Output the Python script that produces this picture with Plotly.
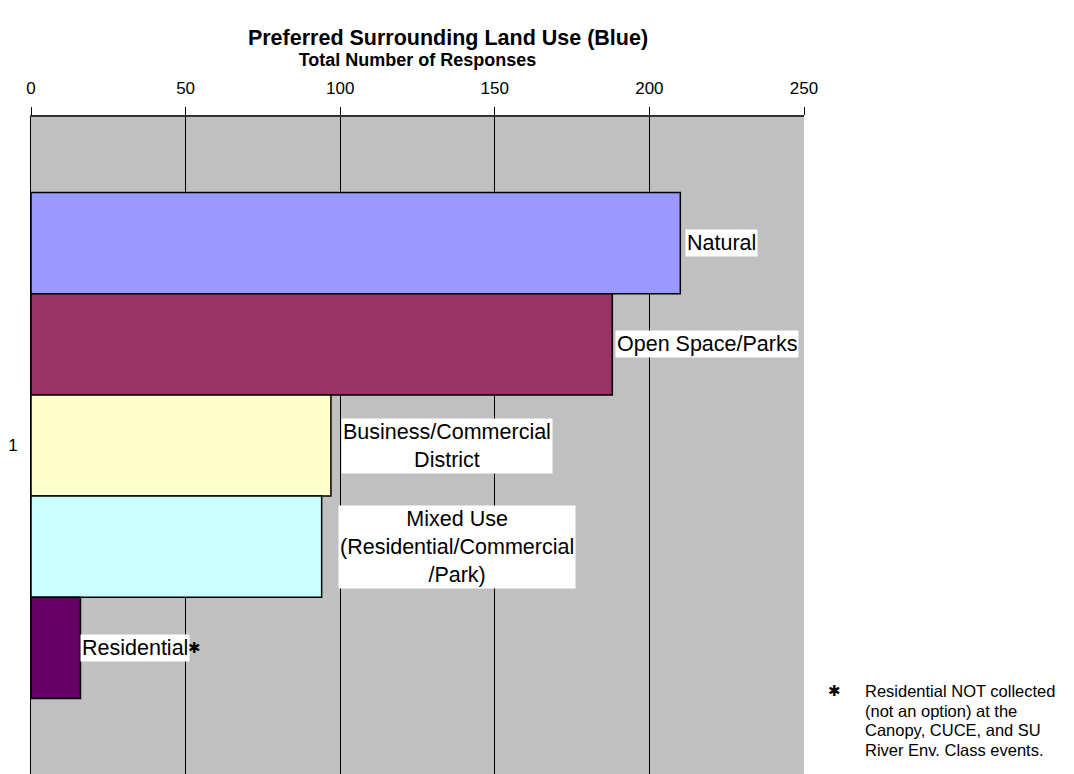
import plotly.graph_objects as go

# ---- data ----
categories = ["Natural", "Open Space/Parks", "Business/Commercial<br>District",
              "Mixed Use<br>(Residential/Commercial<br>/Park)", "Residential"]
values = [210, 188, 97, 94, 16]
group_label = ["1"]
x_ticks = [0, 50, 100, 150, 200, 250]
footnote_lines = ["Residential NOT collected", "(not an option) at the",
                  "Canopy, CUCE, and SU", "River Env. Class events."]

# ---- style ----
colors = ["#9999FF", "#993366", "#FFFFCC", "#CCFFFF", "#660066"]
label_shift = [5, 3, 10, 16, 0]
FONT = "Liberation Sans, Arial, sans-serif"
bargap = 0.23

L, R, T, B = 31, 270, 117, 0
W, H = 1074, 774
PW, PH = W - L - R, H - T - B

fig = go.Figure()
for name, v, c in zip(categories, values, colors):
    fig.add_trace(go.Bar(
        x=[v], y=group_label, orientation="h", name=name,
        marker=dict(color=c, line=dict(color="black", width=1.5)),
        showlegend=False, hoverinfo="x+name",
    ))

n = len(values)
w = (1 - bargap) / n
for i, (name, v) in enumerate(zip(categories, values)):
    ypos = -(1 - bargap) / 2 + w * (i + 0.5)
    fig.add_annotation(
        x=v, y=ypos, xref="x", yref="y", text=name, showarrow=False,
        xanchor="left", yanchor="middle", xshift=label_shift[i], align="center",
        bgcolor="white", borderpad=1,
        font=dict(family=FONT, size=21.5, color="black"),
    )
    if name == "Residential":
        fig.add_annotation(
            x=v, y=ypos, xref="x", yref="y", text="✱", showarrow=False,
            xanchor="left", yanchor="middle", xshift=106,
            font=dict(family="DejaVu Sans", size=15, color="black"),
        )

# footnote
fig.add_annotation(
    x=(826 - L) / PW, y=(H - 691) / PH, xref="paper", yref="paper",
    text="✱", showarrow=False, xanchor="left", yanchor="middle",
    font=dict(family="DejaVu Sans", size=15, color="black"),
)
for k, line in enumerate(footnote_lines):
    fig.add_annotation(
        x=(863 - L) / PW, y=(H - (691 + 19.5 * k)) / PH, xref="paper", yref="paper",
        text=line, showarrow=False, xanchor="left", yanchor="middle", align="left",
        font=dict(family=FONT, size=16.5, color="black"),
    )

fig.update_layout(
    width=W, height=H,
    margin=dict(l=L, r=R, t=T, b=B),
    paper_bgcolor="white", plot_bgcolor="#C0C0C0",
    barmode="group", bargap=bargap, bargroupgap=0,
    font=dict(family=FONT, color="black"),
    title=dict(text="<b>Preferred Surrounding Land Use (Blue)</b>",
               x=448 / W, xref="container", xanchor="center",
               y=1 - 37 / H, yref="container", yanchor="middle",
               font=dict(family=FONT, size=21.5, color="black")),
    xaxis=dict(
        side="top", range=[0, 250], tickvals=x_ticks, automargin=False,
        ticks="outside", ticklen=8, tickcolor="black", tickwidth=1,
        tickfont=dict(family=FONT, size=17, color="black"),
        ticklabelstandoff=6,
        showgrid=True, gridcolor="black", gridwidth=1,
        showline=True, linecolor="#333333", linewidth=2,
        zeroline=False,
        title=dict(text="<b>Total Number of Responses</b>", standoff=8,
                   font=dict(family=FONT, size=18, color="black")),
    ),
    yaxis=dict(
        type="category", range=[0.5, -0.5], automargin=False,
        showline=True, linecolor="black", linewidth=1,
        ticks="", showgrid=False,
        tickfont=dict(family=FONT, size=17, color="black"),
        ticklabelstandoff=9,
    ),
)

fig.write_html("out.html", config={"displayModeBar": False},
               post_script="document.body.style.margin='0';")
